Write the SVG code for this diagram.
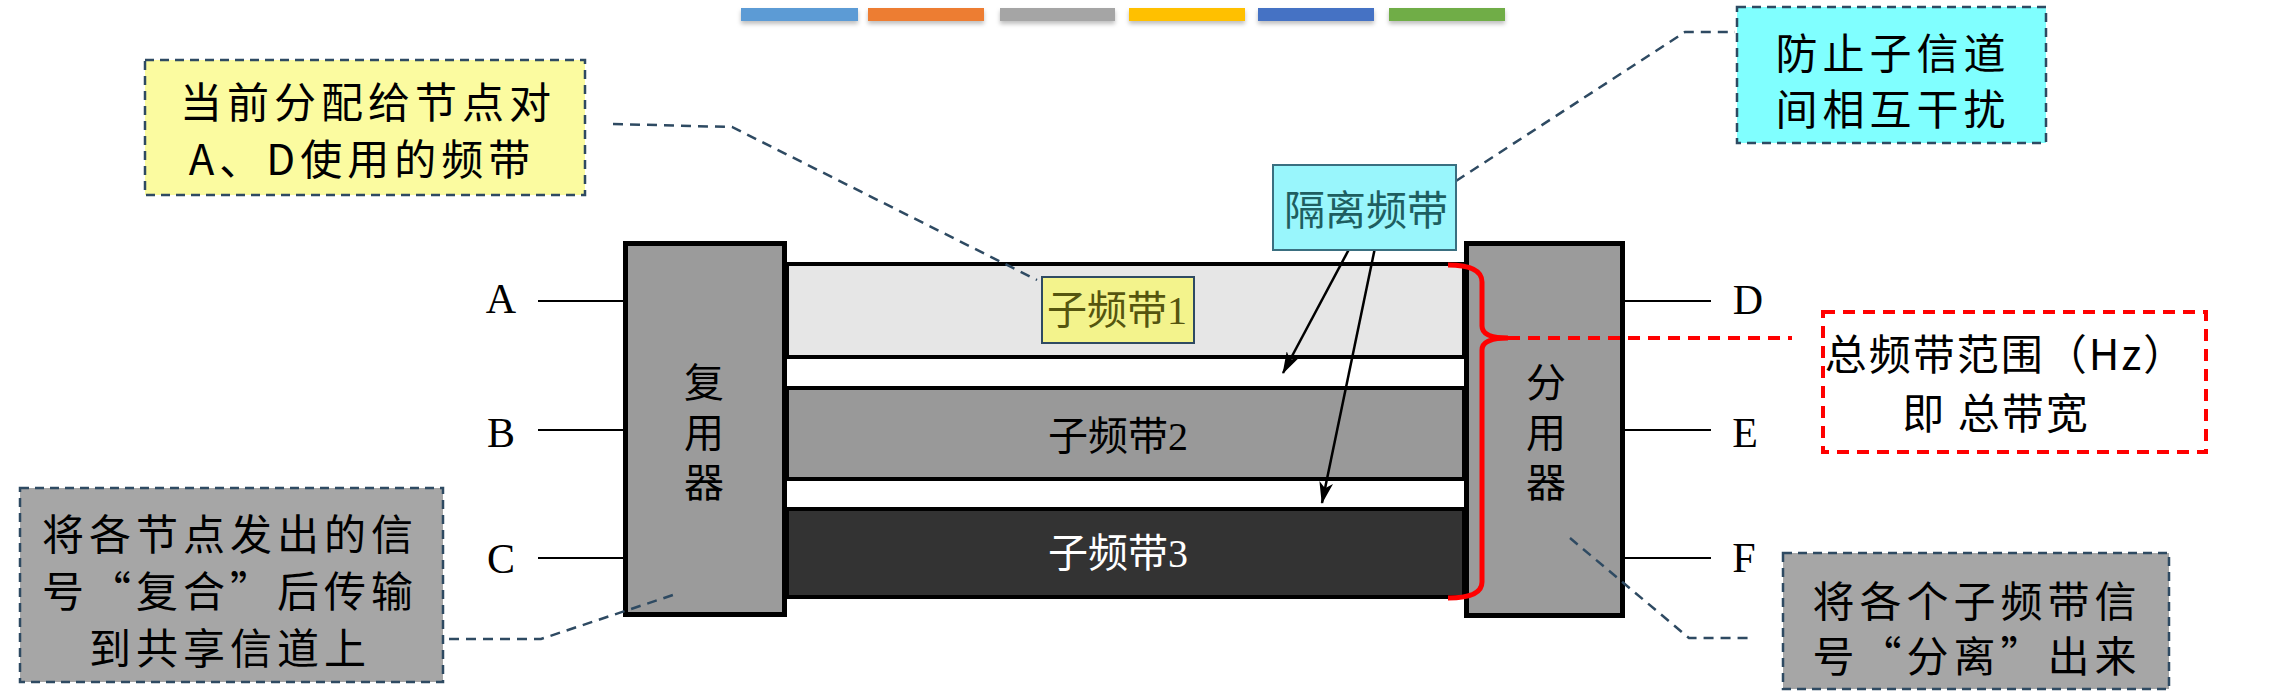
<svg xmlns="http://www.w3.org/2000/svg" width="2272" height="696" viewBox="0 0 2272 696">
  <defs>
    <style>
      .note { stroke: #2E4A62; stroke-width: 2.5; stroke-dasharray: 9 6; }
      .ntext { font-family: "Noto Sans CJK SC", "Noto Sans", sans-serif; font-size: 42px; fill: #000; text-anchor: middle; letter-spacing: 5px; }
      .serif { font-family: "Liberation Serif", "Noto Sans CJK SC", serif; text-anchor: middle; }
      .call { fill: none; stroke: #2E4A62; stroke-width: 2.5; stroke-dasharray: 10 7; }
      .band { stroke: #000; stroke-width: 4; }
      .box { fill: #9B9B9B; stroke: #000; stroke-width: 5; }
      .wire { stroke: #000; stroke-width: 2; fill: none; }
      .arrow { stroke: #000; stroke-width: 2.5; fill: none; marker-end: url(#ah); }
      .bar { stroke: none; }
    </style>
    <marker id="ah" viewBox="0 0 22 14" refX="21" refY="7" markerWidth="22" markerHeight="14" markerUnits="userSpaceOnUse" orient="auto">
      <path d="M0,0 L22,7 L0,14 L6,7 z" fill="#000"/>
    </marker>
    <filter id="sh" x="-10%" y="-50%" width="120%" height="250%">
      <feDropShadow dx="0" dy="3" stdDeviation="2" flood-color="#000" flood-opacity="0.25"/>
    </filter>
  </defs>

  <rect width="2272" height="696" fill="#fff"/>

  <g id="color-bars" filter="url(#sh)">
    <rect class="bar" x="741" y="8" width="117" height="13" fill="#5B9BD5"/>
    <rect class="bar" x="868" y="8" width="116" height="13" fill="#ED7D31"/>
    <rect class="bar" x="1000" y="8" width="115" height="13" fill="#A5A5A5"/>
    <rect class="bar" x="1129" y="8" width="116" height="13" fill="#FFC000"/>
    <rect class="bar" x="1258" y="8" width="116" height="13" fill="#4472C4"/>
    <rect class="bar" x="1389" y="8" width="116" height="13" fill="#70AD47"/>
  </g>

  <g id="bands">
    <rect class="band" x="787" y="264" width="677" height="93" fill="#E6E6E6"/>
    <rect class="band" x="787" y="388" width="677" height="91" fill="#999999"/>
    <rect class="band" x="787" y="509" width="677" height="88" fill="#333333"/>
  </g>

  <g id="mux">
    <rect class="box" x="625.5" y="243.5" width="159" height="371"/>
    <text class="serif" x="704" y="397" font-size="40">复</text>
    <text class="serif" x="704" y="447" font-size="40">用</text>
    <text class="serif" x="704" y="497" font-size="40">器</text>
  </g>

  <g id="demux">
    <rect class="box" x="1466.5" y="243.5" width="156" height="372"/>
    <text class="serif" x="1546" y="397" font-size="40">分</text>
    <text class="serif" x="1546" y="447" font-size="40">用</text>
    <text class="serif" x="1546" y="497" font-size="40">器</text>
  </g>

  <g id="connectors">
    <line class="wire" x1="538" y1="301" x2="623" y2="301"/>
    <line class="wire" x1="538" y1="430" x2="623" y2="430"/>
    <line class="wire" x1="538" y1="558" x2="623" y2="558"/>
    <line class="wire" x1="1625" y1="301" x2="1711" y2="301"/>
    <line class="wire" x1="1625" y1="430" x2="1711" y2="430"/>
    <line class="wire" x1="1625" y1="558" x2="1711" y2="558"/>
    <path class="call" d="M613,124 L732,127 L1037,280"/>
    <path class="call" d="M1456,181 L1685,32 L1735,32"/>
    <path class="call" d="M449,639 L541,639 L679,593"/>
    <path class="call" d="M1570,538 L1689,638 L1752,638"/>
    <line class="arrow" x1="1355" y1="238" x2="1283" y2="373"/>
    <line class="arrow" x1="1377" y1="238" x2="1322" y2="503"/>
    <path d="M1448,265 Q1482,265 1482,282 L1482,326 Q1482,338 1508,338 Q1482,338 1482,350 L1482,582 Q1482,598 1448,598" fill="none" stroke="#FF0000" stroke-width="5"/>
    <line x1="1508" y1="338" x2="1792" y2="338" stroke="#FF0000" stroke-width="4" stroke-dasharray="12 8"/>
  </g>

  <g id="labels-left">
    <text class="serif" x="501" y="313" font-size="42">A</text>
    <text class="serif" x="501" y="447" font-size="42">B</text>
    <text class="serif" x="501" y="573" font-size="42">C</text>
  </g>
  <g id="labels-right">
    <text class="serif" x="1748" y="314" font-size="42">D</text>
    <text class="serif" x="1745" y="447" font-size="42">E</text>
    <text class="serif" x="1744" y="572" font-size="42">F</text>
  </g>

  <g id="subband1">
    <rect x="1042" y="277" width="152" height="66" fill="#F3F38C" stroke="#2E4A62" stroke-width="2"/>
    <text class="serif" x="1117" y="324" font-size="40" fill="#55550F">子频带1</text>
  </g>
  <g id="subband2">
    <text class="serif" x="1118" y="450" font-size="40" fill="#000">子频带2</text>
  </g>
  <g id="subband3">
    <text class="serif" x="1118" y="567" font-size="40" fill="#fff">子频带3</text>
  </g>

  <g id="guard-band">
    <rect x="1273" y="165" width="183" height="85" fill="#99F6FC" stroke="#3A6F80" stroke-width="2"/>
    <text class="serif" x="1366" y="225" font-size="41" fill="#1E5E60">隔离频带</text>
  </g>

  <g id="note-ad">
    <rect class="note" x="145" y="60" width="440" height="135" fill="#FBFBA0"/>
    <text class="ntext" x="368" y="118">当前分配给节点对</text>
    <text class="ntext" x="362" y="175">A、D使用的频带</text>
  </g>

  <g id="note-guard">
    <rect class="note" x="1737" y="7" width="309" height="136" fill="#80FFFF"/>
    <text class="ntext" x="1893" y="69">防止子信道</text>
    <text class="ntext" x="1893" y="125">间相互干扰</text>
  </g>

  <g id="note-mux">
    <rect class="note" x="20" y="488" width="423" height="194" fill="#A6A6A6"/>
    <text class="ntext" x="230" y="550">将各节点发出的信</text>
    <text class="ntext" x="230" y="607">号“复合”后传输</text>
    <text class="ntext" x="230" y="664">到共享信道上</text>
  </g>

  <g id="note-demux">
    <rect class="note" x="1783" y="553" width="386" height="136" fill="#A6A6A6"/>
    <text class="ntext" x="1977" y="617">将各个子频带信</text>
    <text class="ntext" x="1977" y="672">号“分离”出来</text>
  </g>

  <g id="note-bandwidth">
    <rect x="1823" y="312" width="383" height="140" fill="none" stroke="#FF0000" stroke-width="4" stroke-dasharray="12 8"/>
    <text class="ntext" x="2006" y="370" style="letter-spacing:2px">总频带范围（Hz）</text>
    <text class="ntext" x="1996" y="429" style="letter-spacing:2px">即 总带宽</text>
  </g>
</svg>
